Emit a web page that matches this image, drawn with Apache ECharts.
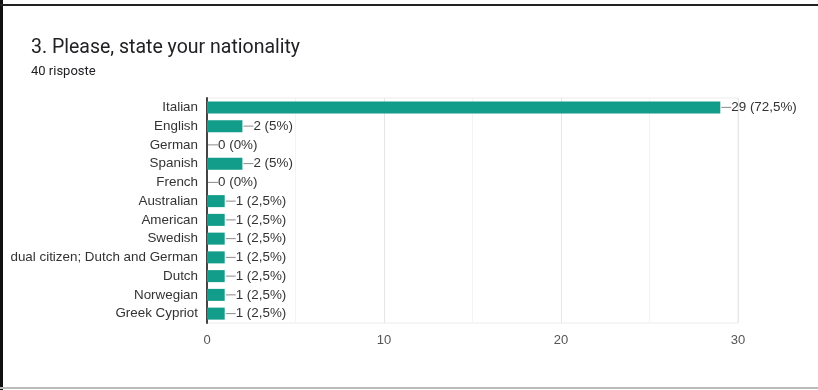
<!DOCTYPE html>
<html>
<head>
<meta charset="utf-8">
<script src="https://cdn.jsdelivr.net/npm/echarts@6/dist/echarts.min.js"></script>
<style>
  html, body { margin: 0; padding: 0; background: #fff; }
  #frame { position: relative; width: 818px; height: 390px; overflow: hidden; }
  #edgeL { position: absolute; left: 0; top: 0; width: 3px; height: 390px; background: #111; }
  #edgeT { position: absolute; left: 0; top: 4px; width: 818px; height: 2px; background: #222; }
  #edgeB { position: absolute; left: 0; top: 387px; width: 818px; height: 2px; background: #bbb; }
  #chart { position: absolute; left: 0; top: 0; width: 818px; height: 390px; }
</style>
</head>
<body>
<div id="frame">
  <div id="chart"></div>
  <div id="edgeL"></div>
  <div id="edgeT"></div>
  <div id="edgeB"></div>
</div>
<script>
const categories = ['Italian', 'English', 'German', 'Spanish', 'French', 'Australian',
  'American', 'Swedish', 'dual citizen; Dutch and German', 'Dutch', 'Norwegian', 'Greek Cypriot'];
const counts = [29, 2, 0, 2, 0, 1, 1, 1, 1, 1, 1, 1];
const totalResponses = 40;
const xTicks = [0, 10, 20, 30];

function pctText(v) {
  const p = Math.round(v / totalResponses * 1000) / 10;
  return String(p).replace('.', ',') + '%';
}

const chart = echarts.init(document.getElementById('chart'));
chart.setOption({
  animation: false,
  textStyle: { fontFamily: 'Roboto, Arial, sans-serif' },
  title: {
    text: '3. Please, state your nationality',
    subtext: '40 risposte',
    left: 26, top: 33,
    itemGap: 7,
    textStyle: { fontSize: 19.5, fontWeight: 'normal', color: '#202124', fontFamily: 'Roboto, Arial, sans-serif' },
    subtextStyle: { fontSize: 13, color: '#202124', fontFamily: 'Roboto, Arial, sans-serif' }
  },
  grid: {
    left: 207, right: 80, top: 98, bottom: 67,
    show: true, borderColor: '#ececec', borderWidth: 1
  },
  xAxis: {
    type: 'value', min: 0, max: 30, interval: 5,
    axisLine: { show: false },
    axisTick: { show: false },
    axisLabel: {
      color: '#555', fontSize: 13, margin: 11,
      fontFamily: 'Arial, sans-serif',
      formatter: v => xTicks.includes(v) ? String(v) : ''
    },
    splitLine: { lineStyle: { color: ['#e6e6e6', '#f3f3f3'], width: 1 } }
  },
  yAxis: {
    type: 'category', inverse: true, data: categories,
    axisLine: { show: true, lineStyle: { color: '#444', width: 2 } },
    axisTick: { show: false },
    axisLabel: { color: '#333', fontSize: 13.4, margin: 9, fontFamily: 'Arial, sans-serif' }
  },
  series: [{
    type: 'bar',
    data: counts,
    barWidth: 12,
    itemStyle: { color: '#129c8a' },
    label: {
      show: true, position: 'right', distance: 1,
      formatter: p => '{l|}{t|' + p.value + ' (' + pctText(p.value) + ')}',
      rich: {
        l: { width: 10, height: 1, backgroundColor: '#8a8a8a' },
        t: { color: '#333', fontSize: 13.4, fontFamily: 'Arial, sans-serif' }
      }
    }
  }]
});
</script>
</body>
</html>
